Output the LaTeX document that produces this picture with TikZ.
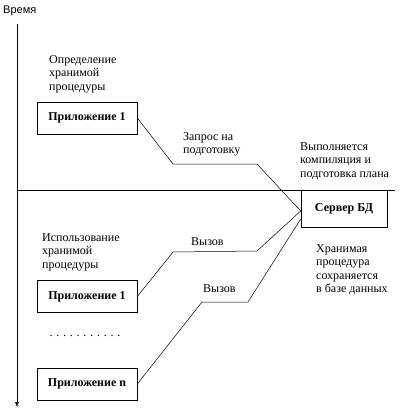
\documentclass[tikz,border=0pt]{standalone}
\usepackage{fontspec}
\setmainfont{Liberation Serif}
\setsansfont{Liberation Sans}
\usetikzlibrary{arrows.meta}

\begin{document}
\begin{tikzpicture}[x=1pt, y=-1pt,
    appbox/.style={draw, line width=0.6pt, minimum width=100pt, minimum height=32pt,
      inner sep=0pt, font=\fontsize{12}{13}\selectfont\bfseries},
    note/.style={anchor=north west, inner sep=0pt, align=left,
      font=\fontsize{12}{13.5}\selectfont},
    link/.style={line width=0.5pt}]
                    \useasboundingbox (0,0) rectangle (420,409);
                    % time axis
                    \node[anchor=north west, inner sep=0pt, font=\sffamily\fontsize{11}{13}\selectfont] (time) at (3,6) {Время};
                    \coordinate (axistop) at (17,24);
                    \coordinate (axisend) at (17,407);
                    \draw[link, -{Latex[length=5pt, width=4pt]}] (axistop) -- (axisend);
                    \coordinate (sepleft) at (17,190);
                    \coordinate (sepright) at (395,190);
                    \draw[link] (sepleft) -- (sepright);
                    % boxes
                    \node[appbox] (app1) at (87,118) {Приложение 1};
                    \node[appbox] (use1) at (87,296.5) {Приложение 1};
                    \node[appbox] (usen) at (87,384) {Приложение n};
                    \node[appbox, minimum width=86pt, minimum height=37pt] (server) at (344,208.5) {Сервер БД};
                    % notes
                    \node[note] (define) at (49,55) {Определение\\хранимой\\процедуры};
                    \node[note] (request) at (183,132) {Запрос на\\подготовку};
                    \node[note] (compile) at (300,142) {Выполняется\\компиляция и\\подготовка плана};
                    \node[note] (stored) at (316,244) {Хранимая\\процедура\\сохраняется\\в базе данных};
                    \node[note] (usage) at (42,233) {Использование\\хранимой\\процедуры};
                    \node[note] (call1) at (191,237) {Вызов};
                    \node[note] (call2) at (203,284) {Вызов};
                    \node[font=\fontsize{12}{13}\selectfont, inner sep=0pt] (dots) at (85,336) {\makebox[71pt][s]{. . . . . . . . . . .}};
                    % connectors
                    \coordinate (reqa) at (173,164);
                    \coordinate (reqb) at (257,164);
                    \coordinate (calla) at (173,252);
                    \coordinate (callb) at (257,251);
                    \coordinate (callna) at (202,302);
                    \coordinate (callnb) at (248,302);
                    \draw[link] (app1.east) -- (reqa) -- (reqb) -- ([yshift=-2.5pt]server.west);
                    \draw[link] (use1.east) -- (calla) -- (callb) -- ([yshift=-2.5pt]server.west);
                    \draw[link] (usen.east) -- (callna) -- (callnb) -- ([yshift=-10.5pt]server.west);
                \end{tikzpicture}
\end{document}
